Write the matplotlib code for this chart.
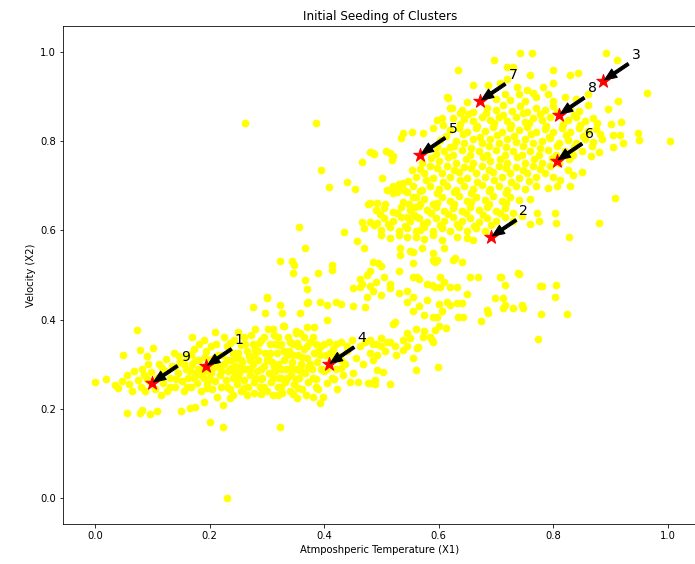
import numpy as np
import matplotlib
matplotlib.use('Agg')
import matplotlib.pyplot as plt

# points, (X1, X2)
lower_band = [
    (0.000, 0.260), (0.019, 0.267), (0.035, 0.253), (0.040, 0.247), (0.049, 0.320), (0.056, 0.190),
    (0.047, 0.262), (0.055, 0.275), (0.060, 0.255), (0.065, 0.240), (0.068, 0.285), (0.073, 0.377),
    (0.075, 0.265), (0.080, 0.250), (0.082, 0.290), (0.079, 0.333), (0.085, 0.275), (0.088, 0.240),
    (0.092, 0.300), (0.095, 0.262), (0.101, 0.336), (0.090, 0.318), (0.079, 0.190), (0.082, 0.197),
    (0.096, 0.188), (0.108, 0.195), (0.098, 0.282), (0.104, 0.245), (0.108, 0.270), (0.112, 0.300),
    (0.115, 0.232), (0.119, 0.257), (0.122, 0.285), (0.124, 0.312), (0.126, 0.240), (0.130, 0.270),
    (0.134, 0.295), (0.138, 0.325), (0.140, 0.250), (0.145, 0.280), (0.148, 0.305), (0.150, 0.195),
    (0.152, 0.262), (0.155, 0.240), (0.158, 0.290), (0.160, 0.318), (0.163, 0.270), (0.166, 0.202),
    (0.168, 0.250), (0.170, 0.300), (0.172, 0.335), (0.175, 0.204), (0.176, 0.280), (0.178, 0.258),
    (0.182, 0.310), (0.185, 0.240), (0.188, 0.290), (0.190, 0.215), (0.190, 0.270), (0.193, 0.330),
    (0.196, 0.255), (0.198, 0.300), (0.200, 0.170), (0.202, 0.280), (0.205, 0.245), (0.207, 0.315),
    (0.210, 0.262), (0.212, 0.345), (0.213, 0.226), (0.215, 0.295), (0.218, 0.275), (0.220, 0.250),
    (0.222, 0.320), (0.223, 0.208), (0.224, 0.159), (0.225, 0.300), (0.228, 0.265), (0.230, 0.000),
    (0.230, 0.340), (0.232, 0.285), (0.235, 0.245), (0.236, 0.224), (0.238, 0.310), (0.240, 0.270),
    (0.243, 0.355), (0.245, 0.295), (0.248, 0.255), (0.250, 0.325), (0.252, 0.280), (0.255, 0.240),
    (0.257, 0.305), (0.260, 0.265), (0.262, 0.345), (0.265, 0.290), (0.267, 0.250), (0.268, 0.318),
    (0.270, 0.275), (0.272, 0.365), (0.275, 0.300), (0.277, 0.235), (0.278, 0.260), (0.280, 0.335),
    (0.283, 0.285), (0.285, 0.310), (0.288, 0.250), (0.290, 0.355), (0.292, 0.270), (0.295, 0.295),
    (0.297, 0.325), (0.300, 0.240), (0.302, 0.380), (0.303, 0.280), (0.305, 0.345), (0.307, 0.260),
    (0.309, 0.305), (0.311, 0.230), (0.313, 0.365), (0.315, 0.285), (0.317, 0.325), (0.319, 0.250),
    (0.320, 0.300), (0.322, 0.270), (0.323, 0.159), (0.325, 0.345), (0.327, 0.235), (0.328, 0.385),
    (0.330, 0.310), (0.332, 0.260), (0.334, 0.290), (0.336, 0.362), (0.338, 0.330), (0.340, 0.240),
    (0.342, 0.275), (0.344, 0.305), (0.346, 0.345), (0.348, 0.255), (0.350, 0.290), (0.352, 0.225),
    (0.354, 0.320), (0.356, 0.270), (0.358, 0.370), (0.360, 0.300), (0.362, 0.245), (0.364, 0.335),
    (0.366, 0.280), (0.368, 0.232), (0.370, 0.315), (0.372, 0.260), (0.375, 0.350), (0.378, 0.290),
    (0.380, 0.226), (0.382, 0.325), (0.385, 0.268), (0.388, 0.305), (0.390, 0.245), (0.393, 0.213),
    (0.395, 0.340), (0.398, 0.227), (0.400, 0.285), (0.403, 0.320), (0.405, 0.258), (0.408, 0.350),
    (0.410, 0.305), (0.413, 0.270), (0.416, 0.335), (0.420, 0.290), (0.423, 0.245), (0.426, 0.318),
    (0.430, 0.350), (0.433, 0.275), (0.437, 0.300), (0.440, 0.330), (0.445, 0.260), (0.448, 0.355),
    (0.450, 0.280), (0.455, 0.315), (0.459, 0.260), (0.462, 0.340), (0.468, 0.300), (0.472, 0.350),
    (0.477, 0.258), (0.480, 0.325), (0.485, 0.345), (0.489, 0.265), (0.493, 0.320), (0.500, 0.340),
    (0.507, 0.330), (0.515, 0.350), (0.525, 0.320), (0.538, 0.355), (0.545, 0.342),
]

lower_core = [
    (0.155, 0.300), (0.165, 0.285), (0.175, 0.310), (0.185, 0.275), (0.195, 0.285), (0.200, 0.310),
    (0.210, 0.300), (0.220, 0.285), (0.230, 0.310), (0.240, 0.325), (0.245, 0.280), (0.255, 0.310),
    (0.260, 0.290), (0.265, 0.330), (0.270, 0.310), (0.275, 0.345), (0.280, 0.270), (0.285, 0.330),
    (0.290, 0.290), (0.295, 0.360), (0.300, 0.310), (0.305, 0.325), (0.310, 0.270), (0.315, 0.345),
    (0.320, 0.360), (0.325, 0.290), (0.330, 0.330), (0.335, 0.270), (0.340, 0.350), (0.345, 0.320),
    (0.350, 0.375), (0.355, 0.340), (0.360, 0.285), (0.365, 0.360), (0.370, 0.340), (0.375, 0.300),
    (0.380, 0.360), (0.390, 0.330), (0.395, 0.290), (0.400, 0.345), (0.410, 0.325), (0.420, 0.345),
    (0.430, 0.310), (0.440, 0.340), (0.210, 0.372), (0.250, 0.373), (0.280, 0.380), (0.310, 0.378),
    (0.350, 0.370), (0.330, 0.385), (0.170, 0.360), (0.190, 0.355), (0.225, 0.362), (0.260, 0.360),
    (0.182, 0.345), (0.202, 0.342), (0.235, 0.348), (0.255, 0.344), (0.287, 0.347), (0.322, 0.343),
    (0.352, 0.348), (0.385, 0.345), (0.147, 0.318), (0.167, 0.322), (0.192, 0.316), (0.215, 0.321),
    (0.247, 0.315), (0.278, 0.320), (0.302, 0.317), (0.335, 0.321), (0.362, 0.316), (0.392, 0.320),
    (0.418, 0.318), (0.117, 0.292), (0.140, 0.294), (0.180, 0.290), (0.208, 0.293), (0.238, 0.291),
    (0.255, 0.294), (0.270, 0.290), (0.312, 0.293), (0.342, 0.291), (0.372, 0.294), (0.405, 0.290),
    (0.430, 0.292), (0.090, 0.268), (0.115, 0.270), (0.142, 0.266), (0.172, 0.269), (0.200, 0.267),
    (0.250, 0.270), (0.290, 0.266), (0.325, 0.269), (0.350, 0.267), (0.380, 0.270), (0.418, 0.268),
    (0.130, 0.248), (0.160, 0.250), (0.195, 0.247), (0.230, 0.249), (0.260, 0.246), (0.295, 0.250),
    (0.325, 0.248), (0.355, 0.246), (0.385, 0.250), (0.240, 0.232), (0.265, 0.230), (0.290, 0.233),
    (0.320, 0.231), (0.345, 0.234),
]

middle_zone = [
    (0.262, 0.841), (0.386, 0.841), (0.276, 0.428), (0.300, 0.448), (0.297, 0.415), (0.323, 0.433),
    (0.326, 0.415), (0.358, 0.415), (0.370, 0.437), (0.405, 0.399), (0.370, 0.383), (0.382, 0.383),
    (0.300, 0.451), (0.370, 0.469), (0.372, 0.440), (0.393, 0.440), (0.405, 0.432), (0.420, 0.440),
    (0.430, 0.435), (0.450, 0.471), (0.466, 0.480), (0.475, 0.451), (0.472, 0.428), (0.450, 0.430),
    (0.323, 0.531), (0.344, 0.531), (0.347, 0.522), (0.346, 0.504), (0.366, 0.489), (0.389, 0.504),
    (0.414, 0.522), (0.414, 0.511), (0.366, 0.560), (0.356, 0.608), (0.435, 0.596), (0.457, 0.576),
    (0.469, 0.560), (0.485, 0.529), (0.494, 0.526), (0.462, 0.490), (0.475, 0.500), (0.490, 0.485),
    (0.505, 0.495), (0.515, 0.480), (0.480, 0.475), (0.462, 0.473), (0.485, 0.465), (0.500, 0.455),
    (0.515, 0.470), (0.530, 0.460), (0.545, 0.465), (0.555, 0.450), (0.545, 0.440), (0.565, 0.430),
    (0.580, 0.445), (0.600, 0.435), (0.615, 0.440), (0.620, 0.433), (0.632, 0.437), (0.640, 0.437),
    (0.555, 0.420), (0.575, 0.410), (0.590, 0.405), (0.605, 0.420), (0.634, 0.406), (0.642, 0.406),
    (0.674, 0.397), (0.597, 0.406), (0.824, 0.413), (0.778, 0.413), (0.524, 0.395), (0.520, 0.390),
    (0.545, 0.370), (0.560, 0.380), (0.575, 0.375), (0.585, 0.360), (0.600, 0.385), (0.613, 0.381),
    (0.593, 0.377), (0.773, 0.357), (0.572, 0.361), (0.550, 0.359), (0.480, 0.355), (0.490, 0.345),
    (0.500, 0.358), (0.510, 0.350), (0.523, 0.342), (0.588, 0.354), (0.590, 0.350), (0.562, 0.336),
    (0.564, 0.339), (0.538, 0.332), (0.555, 0.314), (0.485, 0.309), (0.599, 0.294), (0.560, 0.287),
    (0.492, 0.287), (0.503, 0.283), (0.480, 0.258), (0.489, 0.256), (0.515, 0.256), (0.555, 0.496),
    (0.562, 0.496), (0.602, 0.496), (0.654, 0.496), (0.668, 0.496), (0.707, 0.496), (0.738, 0.504),
    (0.740, 0.502), (0.709, 0.496), (0.716, 0.478), (0.565, 0.490), (0.580, 0.480), (0.610, 0.485),
    (0.588, 0.478), (0.593, 0.473), (0.602, 0.473), (0.620, 0.473), (0.632, 0.473), (0.777, 0.475),
    (0.780, 0.475), (0.805, 0.478), (0.649, 0.457), (0.698, 0.448), (0.712, 0.448), (0.803, 0.451),
    (0.716, 0.433), (0.712, 0.426), (0.730, 0.426), (0.745, 0.433), (0.747, 0.426), (0.684, 0.422),
    (0.686, 0.415), (0.532, 0.560), (0.550, 0.553), (0.532, 0.545), (0.570, 0.560), (0.590, 0.550),
    (0.610, 0.560), (0.555, 0.527), (0.590, 0.533), (0.593, 0.529), (0.597, 0.534), (0.625, 0.533),
    (0.628, 0.538), (0.640, 0.529), (0.555, 0.552), (0.480, 0.510), (0.500, 0.520), (0.530, 0.510),
]

upper_band = [
    (0.742, 0.998), (0.763, 0.998), (0.696, 0.982), (0.634, 0.960), (0.799, 0.960), (0.829, 0.948),
    (0.843, 0.953), (0.892, 0.998), (0.911, 0.982), (0.963, 0.908), (1.003, 0.800), (0.907, 0.673),
    (0.880, 0.617), (0.827, 0.585), (0.803, 0.639), (0.805, 0.617), (0.771, 0.639), (0.719, 0.966),
    (0.730, 0.966), (0.759, 0.948),
    (0.686, 0.926), (0.707, 0.930), (0.736, 0.922), (0.754, 0.915), (0.764, 0.908), (0.782, 0.922),
    (0.720, 0.940), (0.800, 0.930), (0.660, 0.925),
    (0.616, 0.897), (0.649, 0.888), (0.690, 0.905), (0.700, 0.895), (0.715, 0.905), (0.725, 0.893),
    (0.740, 0.905), (0.750, 0.890), (0.770, 0.898), (0.790, 0.905), (0.800, 0.890), (0.820, 0.900),
    (0.840, 0.895), (0.860, 0.905), (0.614, 0.899), (0.623, 0.874), (0.606, 0.852), (0.597, 0.848),
    (0.637, 0.863),
    (0.620, 0.874), (0.640, 0.870), (0.660, 0.865), (0.685, 0.875), (0.700, 0.870), (0.713, 0.880),
    (0.728, 0.868), (0.742, 0.878), (0.755, 0.865), (0.770, 0.875), (0.785, 0.870), (0.800, 0.878),
    (0.830, 0.875), (0.845, 0.868), (0.860, 0.880), (0.895, 0.872), (0.913, 0.890),
    (0.607, 0.836), (0.625, 0.852), (0.645, 0.850), (0.660, 0.845), (0.675, 0.855), (0.690, 0.848),
    (0.705, 0.855), (0.720, 0.845), (0.735, 0.855), (0.750, 0.842), (0.765, 0.852), (0.780, 0.848),
    (0.795, 0.855), (0.825, 0.848), (0.840, 0.855), (0.855, 0.845), (0.870, 0.852), (0.918, 0.843),
    (0.900, 0.839),
    (0.538, 0.818), (0.553, 0.821), (0.572, 0.818), (0.590, 0.830), (0.620, 0.825), (0.635, 0.830),
    (0.650, 0.820), (0.665, 0.830), (0.680, 0.822), (0.695, 0.832), (0.710, 0.820), (0.725, 0.830),
    (0.740, 0.825), (0.755, 0.832), (0.770, 0.820), (0.785, 0.828), (0.800, 0.820), (0.815, 0.830),
    (0.830, 0.820), (0.845, 0.830), (0.860, 0.822), (0.875, 0.828), (0.904, 0.814), (0.916, 0.814),
    (0.535, 0.807), (0.602, 0.803), (0.620, 0.787), (0.630, 0.800), (0.645, 0.795), (0.660, 0.805),
    (0.675, 0.795), (0.690, 0.805), (0.705, 0.795), (0.720, 0.805), (0.735, 0.797), (0.750, 0.805),
    (0.765, 0.795), (0.780, 0.800), (0.795, 0.807), (0.810, 0.795), (0.825, 0.803), (0.840, 0.795),
    (0.855, 0.805), (0.870, 0.797), (0.885, 0.805), (0.921, 0.796), (0.904, 0.787), (0.948, 0.818),
    (0.949, 0.803),
    (0.508, 0.779), (0.520, 0.766), (0.580, 0.780), (0.595, 0.772), (0.610, 0.778), (0.625, 0.770),
    (0.640, 0.780), (0.655, 0.770), (0.670, 0.778), (0.685, 0.768), (0.700, 0.780), (0.715, 0.770),
    (0.730, 0.778), (0.745, 0.768), (0.760, 0.778), (0.775, 0.770), (0.790, 0.780), (0.805, 0.770),
    (0.820, 0.778), (0.835, 0.768), (0.850, 0.778), (0.866, 0.767), (0.880, 0.775), (0.485, 0.774),
    (0.515, 0.774), (0.518, 0.758),
    (0.466, 0.753), (0.480, 0.776), (0.487, 0.771), (0.570, 0.750), (0.585, 0.745), (0.600, 0.755),
    (0.615, 0.745), (0.630, 0.752), (0.645, 0.742), (0.660, 0.752), (0.675, 0.745), (0.690, 0.755),
    (0.705, 0.745), (0.720, 0.752), (0.735, 0.742), (0.750, 0.752), (0.765, 0.745), (0.780, 0.752),
    (0.795, 0.745), (0.810, 0.752), (0.825, 0.735), (0.834, 0.724), (0.850, 0.731),
    (0.553, 0.735), (0.560, 0.720), (0.575, 0.728), (0.590, 0.718), (0.605, 0.728), (0.620, 0.720),
    (0.635, 0.730), (0.650, 0.718), (0.665, 0.728), (0.680, 0.720), (0.695, 0.730), (0.710, 0.720),
    (0.725, 0.728), (0.740, 0.718), (0.755, 0.728), (0.770, 0.720), (0.785, 0.728), (0.800, 0.720),
    (0.812, 0.712), (0.394, 0.735), (0.501, 0.717), (0.830, 0.700), (0.806, 0.700),
    (0.408, 0.697), (0.440, 0.708), (0.454, 0.693), (0.510, 0.690), (0.520, 0.700), (0.530, 0.705),
    (0.540, 0.690), (0.555, 0.700), (0.570, 0.690), (0.585, 0.700), (0.600, 0.693), (0.615, 0.700),
    (0.630, 0.690), (0.645, 0.700), (0.660, 0.692), (0.675, 0.702), (0.690, 0.692), (0.705, 0.700),
    (0.720, 0.690), (0.735, 0.700), (0.750, 0.692), (0.770, 0.700), (0.790, 0.695), (0.511, 0.691),
    (0.520, 0.684), (0.529, 0.697), (0.538, 0.706), (0.545, 0.686), (0.555, 0.675),
    (0.476, 0.659), (0.480, 0.661), (0.492, 0.661), (0.548, 0.660), (0.560, 0.675), (0.575, 0.670),
    (0.590, 0.660), (0.605, 0.675), (0.620, 0.665), (0.635, 0.678), (0.650, 0.665), (0.665, 0.675),
    (0.680, 0.668), (0.695, 0.678), (0.710, 0.665), (0.725, 0.675), (0.740, 0.668), (0.760, 0.670),
    (0.490, 0.645), (0.505, 0.650), (0.520, 0.642), (0.535, 0.652), (0.550, 0.645), (0.565, 0.655),
    (0.580, 0.645), (0.595, 0.652), (0.610, 0.643), (0.625, 0.650), (0.640, 0.643), (0.655, 0.652),
    (0.670, 0.645), (0.685, 0.652), (0.700, 0.643), (0.715, 0.650), (0.730, 0.640), (0.558, 0.652),
    (0.466, 0.619), (0.480, 0.619), (0.492, 0.617), (0.505, 0.628), (0.520, 0.620), (0.535, 0.630),
    (0.550, 0.620), (0.565, 0.628), (0.580, 0.618), (0.595, 0.628), (0.610, 0.620), (0.625, 0.630),
    (0.640, 0.620), (0.655, 0.628), (0.670, 0.618), (0.685, 0.628), (0.700, 0.620), (0.715, 0.630),
    (0.730, 0.620), (0.745, 0.632), (0.760, 0.615), (0.775, 0.620), (0.562, 0.630), (0.545, 0.630),
    (0.470, 0.605), (0.500, 0.600), (0.515, 0.607), (0.530, 0.598), (0.545, 0.605), (0.560, 0.598),
    (0.575, 0.607), (0.590, 0.598), (0.605, 0.605), (0.620, 0.598), (0.635, 0.607), (0.650, 0.598),
    (0.665, 0.605), (0.680, 0.598), (0.567, 0.601),
    (0.500, 0.590), (0.515, 0.582), (0.530, 0.590), (0.545, 0.585), (0.560, 0.585), (0.575, 0.580),
    (0.590, 0.590), (0.605, 0.578), (0.632, 0.585), (0.649, 0.583), (0.660, 0.578),
]

upper_core = [
    (0.652, 0.860), (0.682, 0.864), (0.712, 0.858), (0.747, 0.863), (0.777, 0.860), (0.807, 0.865),
    (0.837, 0.859), (0.637, 0.838), (0.667, 0.835), (0.697, 0.840), (0.727, 0.836), (0.757, 0.841),
    (0.787, 0.835), (0.817, 0.839), (0.847, 0.836), (0.877, 0.840), (0.612, 0.812), (0.642, 0.815),
    (0.672, 0.810), (0.702, 0.814), (0.732, 0.811), (0.762, 0.815), (0.792, 0.810), (0.822, 0.813),
    (0.852, 0.811), (0.882, 0.816), (0.597, 0.787), (0.627, 0.790), (0.657, 0.785), (0.687, 0.789),
    (0.717, 0.786), (0.747, 0.790), (0.777, 0.785), (0.807, 0.788), (0.837, 0.786), (0.867, 0.790),
    (0.587, 0.762), (0.617, 0.765), (0.647, 0.760), (0.677, 0.764), (0.707, 0.761), (0.737, 0.765),
    (0.767, 0.760), (0.797, 0.763), (0.827, 0.761), (0.567, 0.737), (0.597, 0.740), (0.627, 0.735),
    (0.657, 0.739), (0.687, 0.736), (0.717, 0.740), (0.747, 0.735), (0.777, 0.738), (0.547, 0.710),
    (0.577, 0.713), (0.607, 0.708), (0.637, 0.712), (0.667, 0.709), (0.697, 0.713), (0.727, 0.708),
    (0.757, 0.711), (0.527, 0.685), (0.567, 0.688), (0.597, 0.683), (0.627, 0.687), (0.657, 0.684),
    (0.687, 0.688), (0.717, 0.683), (0.507, 0.660), (0.537, 0.663), (0.567, 0.658), (0.597, 0.662),
    (0.627, 0.659), (0.657, 0.663), (0.687, 0.658), (0.717, 0.661), (0.497, 0.637), (0.527, 0.640),
    (0.557, 0.635), (0.587, 0.639), (0.617, 0.636), (0.647, 0.640), (0.677, 0.635), (0.707, 0.638),
    (0.487, 0.612), (0.512, 0.615), (0.542, 0.610), (0.572, 0.614), (0.602, 0.611), (0.632, 0.615),
    (0.662, 0.610), (0.692, 0.613),
]

centroid_x = [0.194, 0.691, 0.887, 0.408, 0.567, 0.806, 0.672, 0.810, 0.0995]
centroid_y = [0.296, 0.585, 0.935, 0.300, 0.769, 0.756, 0.890, 0.859, 0.258]
centroid_labels = ['1', '2', '3', '4', '5', '6', '7', '8', '9']

pts = np.array(lower_band + lower_core + middle_zone + upper_band + upper_core)

fig = plt.figure(figsize=(695 / 72, 564 / 72), dpi=72)
ax = fig.add_axes([63 / 695, 40 / 564, 634 / 695, 498 / 564])

ax.scatter(pts[:, 0], pts[:, 1], c='yellow', s=45)
ax.scatter(centroid_x, centroid_y, marker='*', s=200, c='red')

# label every seed with an arrow
for lab, x, y in zip(centroid_labels, centroid_x, centroid_y):
    ax.annotate(lab, xy=(x, y), xytext=(x + 0.05, y + 0.05), fontsize=14,
                arrowprops=dict(facecolor='black', shrink=0.05, width=3, headwidth=10))

ax.set_xlim(-0.056, 1.051)
ax.set_ylim(-0.058, 1.058)
ax.set_title('Initial Seeding of Clusters')
ax.set_xlabel('Atmposhperic Temperature (X1)')
ax.set_ylabel('Velocity (X2)')

fig.savefig('out.png', dpi=72)
